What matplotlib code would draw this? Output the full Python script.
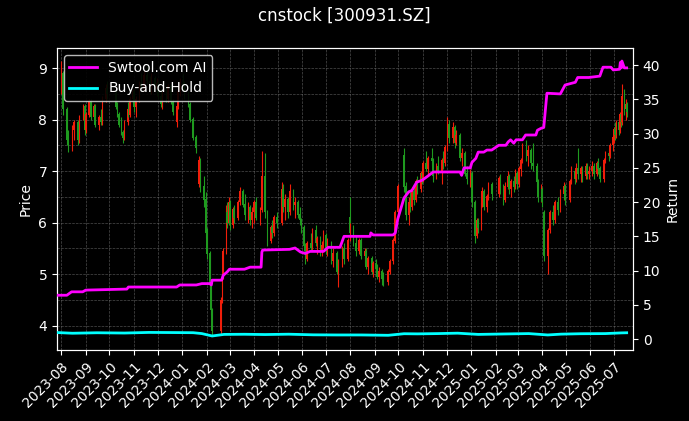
import numpy as np
import pandas as pd
import matplotlib
matplotlib.use("Agg")
import matplotlib.pyplot as plt
import matplotlib.dates as mdates
from matplotlib.ticker import MultipleLocator

plt.style.use("dark_background")
plt.rcParams["font.family"] = ["DejaVu Sans"]

# ---------------- data ----------------
title = "cnstock [300931.SZ]"
months = pd.period_range("2023-08", "2025-07", freq="M")
first_day = "2023-07-27"
last_day = "2025-07-17"
holidays = ["2023-09-29", "2023-10-02", "2023-10-03", "2023-10-04", "2023-10-05", "2023-10-06",
            "2024-01-01", "2024-02-09", "2024-02-12", "2024-02-13", "2024-02-14", "2024-02-15",
            "2024-02-16", "2024-04-04", "2024-04-05", "2024-05-01", "2024-05-02", "2024-05-03",
            "2024-06-10", "2024-09-16", "2024-09-17", "2024-10-01", "2024-10-02", "2024-10-03",
            "2024-10-04", "2024-10-07", "2025-01-01", "2025-01-28", "2025-01-29", "2025-01-30",
            "2025-01-31", "2025-02-03", "2025-02-04", "2025-04-04", "2025-05-01", "2025-05-02",
            "2025-05-05", "2025-06-02"]

# 10 candles per month
opens = [
    8.60, 8.90, 8.20, 7.60, 7.45, 7.80, 7.95, 7.60, 8.05, 8.25,
    7.80, 8.10, 8.35, 8.05, 8.25, 7.90, 8.05, 7.95, 8.40, 8.60,
    8.50, 8.25, 8.10, 7.90, 7.75, 7.65, 7.95, 8.20, 8.10, 8.40,
    8.55, 8.25, 8.40, 8.70, 8.60, 8.85, 8.75, 8.55, 8.80, 8.60,
    8.70, 8.45, 8.30, 8.50, 8.40, 8.65, 8.35, 7.95, 8.25, 8.55,
    8.70, 8.60, 8.50, 8.30, 8.00, 7.65, 6.75, 7.20, 6.70, 6.45,
    5.80, 5.40, 4.80, 4.30, 3.90, 4.50, 4.95, 5.45, 6.20, 6.00,
    6.40, 5.95, 6.25, 6.10, 6.40, 6.60, 6.35, 6.15, 6.30, 6.05,
    6.20, 6.40, 6.10, 6.25, 6.90, 6.20, 5.65, 5.90, 5.80, 6.10,
    6.00, 6.65, 6.30, 6.45, 6.20, 6.60, 6.35, 6.40, 6.15, 6.05,
    5.90, 5.55, 5.30, 5.60, 5.50, 5.85, 5.60, 5.70, 5.45, 5.55,
    5.75, 5.45, 5.60, 5.25, 5.40, 5.05, 5.20, 5.50, 5.30, 6.10,
    5.80, 5.90, 5.60, 5.45, 5.65, 5.35, 5.45, 5.15, 5.30, 5.05,
    5.20, 5.10, 4.95, 5.05, 4.90, 4.85, 5.05, 5.25, 5.65, 6.20,
    7.30, 6.70, 6.15, 6.40, 6.30, 6.60, 6.45, 6.80, 6.65, 6.95,
    6.85, 7.15, 7.05, 7.25, 7.20, 6.90, 7.10, 7.00, 7.20, 7.15,
    7.45, 7.90, 7.65, 7.85, 7.55, 7.70, 7.25, 7.35, 6.95, 6.85,
    6.95, 6.40, 5.75, 6.05, 5.90, 6.35, 6.60, 6.30, 6.50, 6.75,
    6.55, 6.85, 6.60, 6.45, 6.70, 6.90, 6.65, 6.80, 6.70, 6.95,
    6.75, 7.05, 7.20, 7.45, 7.30, 7.40, 7.15, 7.10, 6.80, 6.50,
    6.65, 6.20, 5.35, 5.85, 6.20, 6.05, 6.40, 6.25, 6.55, 6.70,
    6.45, 6.80, 7.00, 6.85, 7.05, 6.95, 7.05, 6.90, 7.10, 6.95,
    7.00, 7.10, 6.95, 7.15, 7.05, 6.85, 7.20, 7.35, 7.30, 7.50,
    7.65, 7.80, 7.70, 7.95, 7.80, 8.10, 7.95, 8.45, 8.20, 8.30,
]
highs = [
    9.13, 8.95, 8.25, 7.80, 7.90, 8.00, 8.00, 8.10, 8.30, 8.30,
    8.15, 8.40, 8.40, 8.30, 8.30, 8.10, 8.20, 8.45, 8.70, 8.75,
    8.60, 8.35, 8.15, 8.05, 7.80, 8.00, 8.25, 8.35, 8.45, 8.60,
    8.60, 8.45, 8.75, 8.90, 8.95, 9.05, 8.85, 8.90, 8.85, 8.80,
    8.75, 8.60, 8.55, 8.65, 8.70, 8.70, 8.40, 8.30, 8.60, 8.80,
    8.90, 8.75, 8.55, 8.35, 8.05, 7.70, 7.30, 7.25, 6.90, 6.60,
    5.90, 5.45, 4.85, 4.35, 4.55, 5.00, 5.50, 6.35, 6.40, 6.50,
    6.45, 6.30, 6.35, 6.45, 6.70, 6.65, 6.55, 6.40, 6.35, 6.30,
    6.45, 6.50, 6.30, 7.40, 7.35, 6.25, 5.95, 6.05, 6.15, 6.20,
    6.80, 6.75, 6.55, 6.50, 6.75, 6.65, 6.50, 6.45, 6.30, 6.10,
    5.95, 5.60, 5.65, 5.80, 5.90, 5.95, 5.75, 5.75, 5.65, 5.85,
    5.80, 5.70, 5.65, 5.50, 5.45, 5.30, 5.55, 5.60, 5.70, 6.50,
    6.00, 5.95, 5.75, 5.70, 5.70, 5.50, 5.50, 5.35, 5.35, 5.25,
    5.30, 5.20, 5.15, 5.10, 5.05, 5.10, 5.30, 5.70, 6.25, 6.75,
    7.45, 6.80, 6.50, 6.60, 6.70, 6.75, 6.85, 6.90, 7.00, 7.10,
    7.20, 7.40, 7.30, 7.45, 7.25, 7.15, 7.30, 7.25, 7.40, 7.50,
    8.05, 8.00, 7.95, 7.90, 7.80, 7.75, 7.45, 7.40, 7.10, 7.05,
    7.00, 6.45, 6.10, 6.10, 6.40, 6.70, 6.65, 6.55, 6.80, 6.80,
    6.90, 6.95, 6.75, 6.80, 7.00, 6.95, 6.85, 6.90, 7.05, 7.00,
    7.10, 7.25, 7.55, 7.60, 7.50, 7.45, 7.55, 7.15, 6.85, 6.75,
    6.70, 6.25, 5.90, 6.25, 6.35, 6.45, 6.50, 6.65, 6.80, 6.75,
    6.85, 7.10, 7.05, 7.15, 7.45, 7.10, 7.10, 7.15, 7.15, 7.10,
    7.20, 7.15, 7.20, 7.25, 7.10, 7.25, 7.40, 7.45, 7.55, 7.70,
    7.85, 7.95, 8.00, 8.05, 8.15, 8.25, 8.70, 8.60, 8.40, 8.35,
]
lows = [
    8.50, 8.10, 7.50, 7.38, 7.40, 7.60, 7.50, 7.55, 8.00, 7.70,
    7.75, 8.05, 8.00, 8.00, 7.85, 7.80, 7.90, 7.90, 8.35, 8.40,
    8.20, 8.05, 7.85, 7.70, 7.55, 7.60, 7.90, 8.05, 8.05, 8.30,
    8.15, 8.05, 8.35, 8.55, 8.55, 8.70, 8.50, 8.50, 8.55, 8.45,
    8.40, 8.25, 8.20, 8.35, 8.35, 8.30, 8.10, 7.85, 8.20, 8.45,
    8.55, 8.40, 8.25, 7.95, 7.60, 7.35, 6.70, 6.60, 6.30, 5.70,
    5.30, 4.70, 4.20, 3.80, 3.85, 4.45, 4.90, 5.40, 5.90, 5.95,
    5.85, 5.90, 6.00, 6.05, 6.35, 6.30, 6.05, 6.00, 5.95, 5.90,
    6.00, 6.05, 5.95, 6.20, 6.10, 5.55, 5.60, 5.70, 5.75, 5.90,
    5.95, 6.20, 6.05, 6.10, 6.15, 6.25, 6.10, 6.10, 5.95, 5.80,
    5.45, 5.20, 5.25, 5.45, 5.45, 5.55, 5.40, 5.35, 5.35, 5.50,
    5.40, 5.35, 5.20, 5.15, 5.00, 4.75, 5.15, 5.20, 5.25, 5.70,
    5.65, 5.55, 5.35, 5.40, 5.30, 5.20, 5.10, 5.00, 5.00, 4.95,
    5.00, 4.90, 4.85, 4.80, 4.78, 4.80, 5.00, 5.20, 5.60, 6.10,
    6.60, 6.05, 5.95, 6.20, 6.25, 6.35, 6.40, 6.55, 6.60, 6.75,
    6.80, 7.00, 6.90, 7.10, 6.80, 6.85, 6.95, 6.75, 7.05, 7.10,
    7.40, 7.55, 7.55, 7.45, 7.50, 7.20, 7.10, 6.90, 6.75, 6.70,
    6.30, 5.60, 5.70, 5.80, 5.85, 6.30, 6.25, 6.20, 6.45, 6.45,
    6.50, 6.55, 6.35, 6.40, 6.65, 6.55, 6.50, 6.60, 6.65, 6.65,
    6.70, 6.90, 7.15, 7.20, 7.10, 7.05, 7.00, 6.70, 6.40, 6.40,
    6.30, 5.25, 5.00, 5.80, 5.95, 6.00, 6.15, 6.20, 6.45, 6.35,
    6.40, 6.75, 6.75, 6.80, 6.85, 6.80, 6.80, 6.85, 6.85, 6.85,
    6.90, 6.85, 6.90, 6.95, 6.80, 6.80, 7.15, 7.20, 7.25, 7.40,
    7.55, 7.60, 7.65, 7.70, 7.75, 7.85, 7.90, 8.10, 8.00, 8.05,
]
closes = [
    8.95, 8.20, 7.60, 7.45, 7.80, 7.95, 7.60, 8.05, 8.25, 7.80,
    8.10, 8.35, 8.05, 8.25, 7.90, 8.05, 7.95, 8.40, 8.60, 8.50,
    8.25, 8.10, 7.90, 7.75, 7.65, 7.95, 8.20, 8.10, 8.40, 8.55,
    8.25, 8.40, 8.70, 8.60, 8.85, 8.75, 8.55, 8.80, 8.60, 8.70,
    8.45, 8.30, 8.50, 8.40, 8.65, 8.35, 8.15, 8.25, 8.55, 8.70,
    8.60, 8.50, 8.30, 8.00, 7.65, 7.45, 7.20, 6.70, 6.45, 5.80,
    5.40, 4.80, 4.30, 3.90, 4.50, 4.95, 5.45, 6.20, 6.00, 6.40,
    5.95, 6.25, 6.10, 6.40, 6.60, 6.35, 6.15, 6.30, 6.05, 6.20,
    6.40, 6.10, 6.25, 6.90, 6.20, 5.65, 5.90, 5.80, 6.10, 6.00,
    6.65, 6.30, 6.45, 6.20, 6.60, 6.35, 6.40, 6.15, 6.05, 5.90,
    5.55, 5.30, 5.60, 5.50, 5.85, 5.60, 5.70, 5.45, 5.55, 5.75,
    5.45, 5.60, 5.25, 5.40, 5.05, 5.20, 5.50, 5.30, 5.65, 5.80,
    5.90, 5.60, 5.45, 5.65, 5.35, 5.45, 5.15, 5.30, 5.05, 5.20,
    5.10, 4.95, 5.05, 4.90, 4.85, 5.05, 5.25, 5.65, 6.20, 6.70,
    6.70, 6.15, 6.40, 6.30, 6.60, 6.45, 6.80, 6.65, 6.95, 6.85,
    7.15, 7.05, 7.25, 7.20, 6.90, 7.10, 7.00, 7.20, 7.15, 7.45,
    7.90, 7.65, 7.85, 7.55, 7.70, 7.25, 7.35, 6.95, 6.85, 6.95,
    6.40, 5.75, 6.05, 5.90, 6.35, 6.60, 6.30, 6.50, 6.75, 6.55,
    6.85, 6.60, 6.45, 6.70, 6.90, 6.65, 6.80, 6.70, 6.95, 6.75,
    7.05, 7.20, 7.45, 7.30, 7.40, 7.15, 7.10, 6.80, 6.50, 6.65,
    6.40, 5.35, 5.85, 6.20, 6.05, 6.40, 6.25, 6.55, 6.70, 6.45,
    6.80, 7.00, 6.85, 7.05, 6.95, 7.05, 6.90, 7.10, 6.95, 7.00,
    7.10, 6.95, 7.15, 7.05, 6.85, 7.20, 7.35, 7.30, 7.50, 7.65,
    7.80, 7.70, 7.95, 7.80, 8.10, 7.95, 8.45, 8.20, 8.30, 8.15,
]

ai_dates = ["2023-07-27", "2023-08-08", "2023-08-14", "2023-08-28", "2023-09-01", "2023-09-19",
            "2023-10-23", "2023-10-25", "2023-12-25", "2023-12-29", "2024-01-19", "2024-01-26",
            "2024-02-05", "2024-02-07", "2024-02-08", "2024-02-20", "2024-02-22", "2024-02-27",
            "2024-03-01", "2024-03-20", "2024-03-27", "2024-04-10", "2024-04-11", "2024-04-12",
            "2024-05-16", "2024-05-23", "2024-05-30", "2024-06-05", "2024-06-11", "2024-06-28",
            "2024-07-04", "2024-07-19", "2024-07-24", "2024-08-26", "2024-08-27", "2024-08-30",
            "2024-09-24", "2024-09-27", "2024-09-30", "2024-10-08", "2024-10-14", "2024-10-18",
            "2024-10-24", "2024-10-31", "2024-11-06", "2024-11-14", "2024-12-18", "2024-12-20",
            "2024-12-23", "2024-12-31", "2025-01-02", "2025-01-07", "2025-01-10", "2025-01-17",
            "2025-01-21", "2025-01-27", "2025-02-05", "2025-02-14", "2025-02-17", "2025-02-20",
            "2025-02-24", "2025-02-27", "2025-03-07", "2025-03-11", "2025-03-24", "2025-03-26",
            "2025-03-31", "2025-04-03", "2025-04-07", "2025-04-24", "2025-04-30", "2025-05-13",
            "2025-05-16", "2025-05-30", "2025-06-13", "2025-06-17", "2025-06-27", "2025-06-30",
            "2025-07-08", "2025-07-09", "2025-07-10", "2025-07-11", "2025-07-14", "2025-07-17"]
ai_values = [6.4, 6.4, 6.9, 6.9, 7.15, 7.2,
             7.3, 7.6, 7.6, 7.9, 7.9, 8.1,
             8.1, 7.9, 8.6, 8.6, 9.3, 9.8,
             10.2, 10.2, 10.5, 10.5, 12.7, 13.0,
             13.1, 13.3, 12.7, 12.5, 12.8, 12.8,
             13.4, 13.4, 15.0, 15.0, 15.5, 15.2,
             15.2, 15.5, 17.5, 20.6, 21.5, 21.7,
             22.9, 23.2, 23.7, 24.4, 24.4, 23.9,
             25.0, 25.0, 25.8, 26.4, 27.3, 27.3,
             27.6, 27.6, 28.3, 28.3, 28.8, 29.1,
             28.6, 29.1, 29.1, 29.8, 29.8, 30.5,
             30.8, 30.9, 35.9, 35.8, 37.1, 37.5,
             38.2, 38.2, 38.4, 39.7, 39.7, 39.3,
             39.4, 40.4, 39.6, 40.6, 39.6, 39.6]

bh_dates = ["2023-07-27", "2023-08-15", "2023-09-15", "2023-10-20", "2023-11-20", "2023-12-20",
            "2024-01-15", "2024-01-26", "2024-02-08", "2024-02-23", "2024-03-20", "2024-04-15",
            "2024-05-15", "2024-06-15", "2024-07-15", "2024-08-15", "2024-09-18", "2024-10-08",
            "2024-10-25", "2024-11-20", "2024-12-15", "2025-01-10", "2025-02-15", "2025-03-15",
            "2025-04-08", "2025-04-25", "2025-05-20", "2025-06-20", "2025-07-10", "2025-07-17"]
bh_values = [0.95, 0.85, 0.92, 0.88, 0.97, 0.95,
             0.93, 0.80, 0.45, 0.68, 0.70, 0.66,
             0.71, 0.62, 0.60, 0.60, 0.55, 0.78,
             0.76, 0.80, 0.86, 0.68, 0.75, 0.80,
             0.60, 0.72, 0.78, 0.80, 0.90, 0.92]

# ---------------- candle dates ----------------
hol = set(pd.to_datetime(holidays))
cdates = []
for p in months:
    start = max(p.start_time, pd.Timestamp(first_day))
    end = min(p.end_time.normalize(), pd.Timestamp(last_day))
    days = [d for d in pd.bdate_range(start, end) if d not in hol]
    idx = np.round(np.linspace(0, len(days) - 1, 10)).astype(int)
    cdates.extend([days[i] for i in idx])
cx = mdates.date2num(cdates)

o = np.array(opens); h = np.array(highs); l = np.array(lows); c = np.array(closes)
up = c >= o
up_col, dn_col = "#f01e0a", "#1f9a1f"
cols = np.where(up, up_col, dn_col)

# ---------------- figure ----------------
fig = plt.figure(figsize=(6.89, 4.21), dpi=100)
fig.patch.set_facecolor("black")
ax = fig.add_axes([0.0827, 0.1686, 0.836, 0.7173])
ax.set_facecolor("black")

ax.vlines(cx, l, h, colors=cols, linewidth=0.8, zorder=2)
ax.bar(cx, np.abs(c - o) + 0.01, bottom=np.minimum(o, c), width=2.0,
       color=cols, linewidth=0, zorder=3)

ax.set_ylim(3.53, 9.39)
ax.set_xlim(mdates.date2num(pd.Timestamp("2023-07-26 12:00")),
            mdates.date2num(pd.Timestamp("2025-07-25")))
ax.set_ylabel("Price", fontsize=10)
ax.yaxis.set_major_locator(MultipleLocator(1))
ax.yaxis.set_minor_locator(MultipleLocator(0.5))
ax.tick_params(axis="y", which="minor", length=0)
ax.xaxis.set_major_locator(mdates.MonthLocator())
ax.xaxis.set_major_formatter(mdates.DateFormatter("%Y-%m"))
plt.setp(ax.get_xticklabels(), rotation=45, ha="right", rotation_mode="anchor")
ax.grid(True, which="both", color="#808080", linestyle="--", linewidth=0.5, alpha=0.6)

ax2 = ax.twinx()
ax2.plot(pd.to_datetime(ai_dates), ai_values, color="#ff00ff", linewidth=2.0,
         label="Swtool.com AI", zorder=5)
ax2.plot(pd.to_datetime(bh_dates), bh_values, color="#00ffff", linewidth=2.0,
         label="Buy-and-Hold", zorder=4)
ax2.set_ylim(-1.6, 42.5)
ax2.yaxis.set_major_locator(MultipleLocator(5))
ax2.set_ylabel("Return", fontsize=10)
ax2.set_xlim(ax.get_xlim())

for a in (ax, ax2):
    for s in a.spines.values():
        s.set_color("white")

leg = ax2.legend(loc="upper left", facecolor="black", edgecolor="#cccccc",
                 framealpha=0.9, fontsize=10)
for t in leg.get_texts():
    t.set_color("white")

fig.suptitle(title, fontsize=12, y=0.962, va="center", color="white")

fig.savefig("out.png", dpi=100, facecolor="black")
